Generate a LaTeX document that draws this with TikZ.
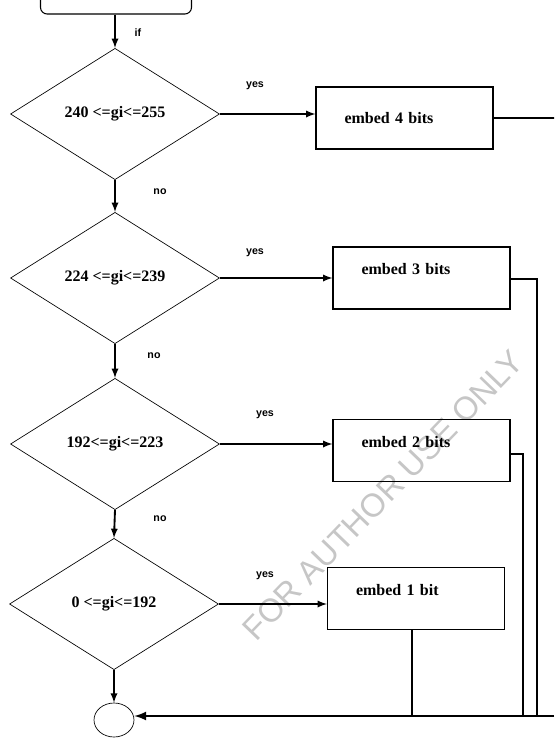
\documentclass[tikz,border=0pt]{standalone}
\usepackage{fontspec}
\setmainfont{Liberation Serif}
\newfontfamily\labelfont{Liberation Sans}
\usetikzlibrary{shapes, arrows, positioning}

\tikzset{
  test/.style={diamond, draw, line width=0.5pt, inner sep=0pt,
    minimum width=156.75pt, minimum height=98.5pt,
    font=\bfseries\fontsize{12}{14}\selectfont},
  embedbox/.style={rectangle, draw, line width=0.8pt,
    minimum width=132.75pt, minimum height=46.5pt,
    inner xsep=21pt, text width=90pt, align=left,
    font=\bfseries\fontsize{12}{14}\selectfont},
  raised/.style={text depth=13pt},
  flow/.style={-latex, line width=1.4pt},
  back/.style={line width=0.8pt},
  lbl/.style={font=\labelfont\bfseries\fontsize{8}{10}\selectfont},
}

\begin{document}
\begin{tikzpicture}[x=0.75pt, y=-0.75pt]
        \useasboundingbox (0,0) rectangle (554,739);
        \clip (0,0) rectangle (554,739);

        % Wasserzeichen
        \node[rotate=46, text=gray!45, font=\labelfont\fontsize{24.5}{26}\selectfont]
          (mark) at (383,495) {FOR AUTHOR USE ONLY};

        % Start und Ende
        \node[draw, rounded corners=5pt, line width=0.8pt,
          minimum width=113.25pt, minimum height=36pt] (start) at (116,-10) {};
        \node[ellipse, draw, line width=0.5pt, minimum width=30pt,
          minimum height=25.5pt, inner sep=0pt] (stop) at (114,720) {};

        % Abfragen
        \node[test] (d1) at (115,114) {240 <=gi<=255};
        \node[test] (d2) at (115,278) {224 <=gi<=239};
        \node[test] (d3) at (115,444) {192<=gi<=223};
        \node[test] (d4) at (114,604) {0 <=gi<=192};

        % Einbetten
        \node[embedbox] (b1) at (404.5,118) {embed 4 bits};
        \node[embedbox, raised] (b2) at (421.5,278) {embed 3 bits};
        \node[embedbox, raised] (b3) at (421.5,450.5) {embed 2 bits};
        \node[embedbox, raised] (b4) at (416,598.5) {embed 1 bit};

        % Pfeile nach unten
        \draw[flow] (start.south -| d1.north) -- (d1.north);
        \draw[flow] (d1.south) -- (d2.north);
        \draw[flow] (d2.south) -- (d3.north);
        \draw[flow] (d3.south) -- (d4.north);
        \draw[flow] (d4.south) -- (stop.north);

        % Pfeile nach rechts
        \draw[flow] (d1.east) -- (d1.east -| b1.west);
        \draw[flow] (d2.east) -- (d2.east -| b2.west);
        \draw[flow] (d3.east) -- (d3.east -| b3.west);
        \draw[flow] (d4.east) -- (d4.east -| b4.west);

        % Beschriftungen
        \node[lbl] (if) at (138,33) {if};
        \node[lbl] (yes1) at (255,86) {yes};
        \node[lbl] (yes2) at (255,253) {yes};
        \node[lbl] (yes3) at (265,415) {yes};
        \node[lbl] (yes4) at (265,576) {yes};
        \node[lbl] (no1) at (160,192) {no};
        \node[lbl] (no2) at (154,356) {no};
        \node[lbl] (no3) at (160,519) {no};

        % Rueckfuehrung
        \coordinate (r1) at (560,716);
        \coordinate (r2) at (537,716);
        \coordinate (r3) at (523,716);
        \coordinate (r4) at (412,716);
        \coordinate (edge) at (554,716);
        \draw[back] (b1.east) -| (r1);
        \draw[back] ([yshift=-0.75pt]b2.east) -| (r2);
        \draw[back] ([yshift=-2.6pt]b3.east) -| (r3);
        \draw[back] (b4.south -| r4) -- (r4);
        \draw[back] (edge) -- (r4);
        \draw[-latex, line width=2pt] (r4) -- (stop.east |- r4);
      \end{tikzpicture}
\end{document}
